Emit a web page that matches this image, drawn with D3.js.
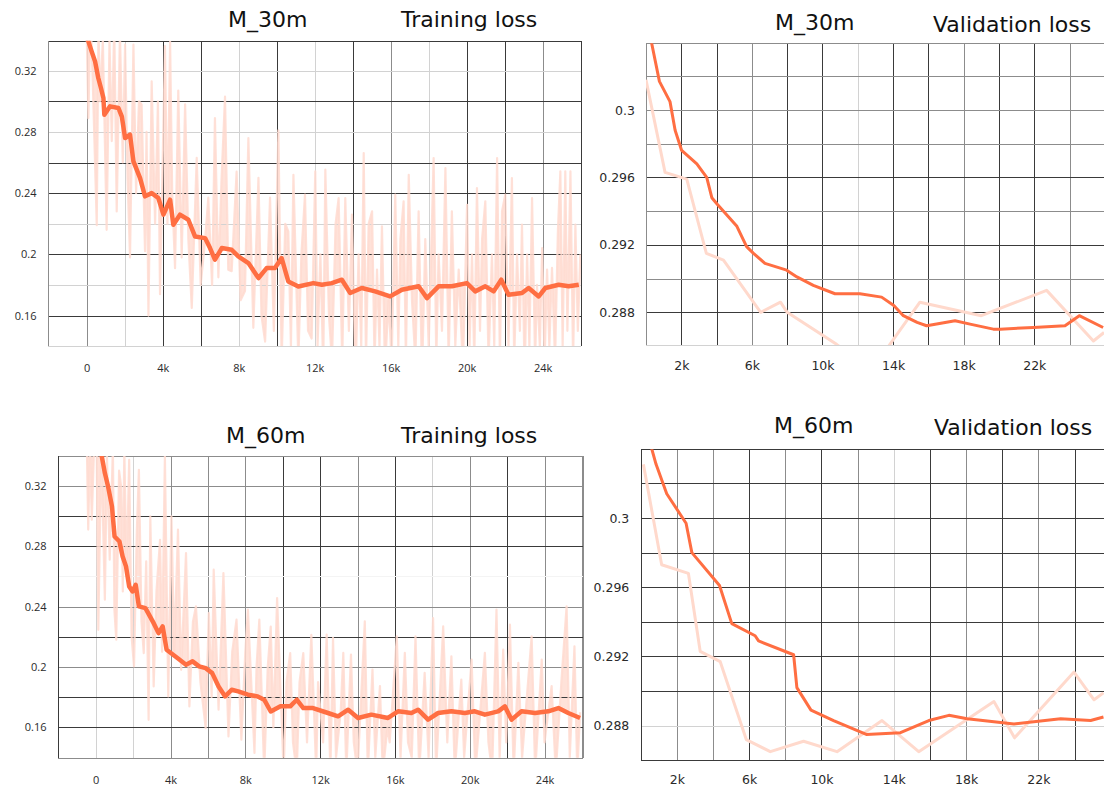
<!DOCTYPE html>
<html><head><meta charset="utf-8">
<script src="https://cdn.jsdelivr.net/npm/d3@7"></script>
<style>body{margin:0;background:#fff}svg{display:block}</style>
</head><body>
<svg id="c" width="1104" height="789"></svg>
<script>
// ---------- DATA (steps in thousands, loss values) ----------
const trainXTicks = [0, 4, 8, 12, 16, 20, 24];
const trainYTicks = [0.16, 0.2, 0.24, 0.28, 0.32];
const valXTicks = [2, 6, 10, 14, 18, 22];
const valYTicks = [0.288, 0.292, 0.296, 0.3];

const train30Smooth = [[0.0,0.342],[0.09,0.3392],[0.26,0.3326],[0.44,0.3261],[0.61,0.3152],[0.75,0.3087],[0.88,0.3021],[0.93,0.2912],[1.23,0.2967],[1.67,0.2956],[1.85,0.2900],[2.02,0.2760],[2.28,0.2782],[2.46,0.2607],[2.81,0.2498],[3.07,0.2379],[3.42,0.2400],[3.77,0.2368],[4.04,0.2259],[4.39,0.2357],[4.56,0.2193],[4.91,0.2259],[5.35,0.2226],[5.70,0.2117],[6.23,0.2106],[6.49,0.2041],[6.75,0.1965],[7.11,0.2041],[7.63,0.2030],[7.98,0.1987],[8.51,0.1943],[9.04,0.1845],[9.47,0.1910],[9.91,0.1910],[10.26,0.1976],[10.61,0.1823],[11.14,0.1790],[11.93,0.1812],[12.38,0.1801],[12.9,0.1812],[13.43,0.1834],[13.87,0.1747],[14.48,0.178],[15.18,0.1758],[15.97,0.1725],[16.59,0.1769],[17.47,0.1791],[17.91,0.1714],[18.52,0.1791],[19.22,0.1791],[20.01,0.1812],[20.45,0.1758],[20.98,0.1791],[21.42,0.1758],[21.82,0.1834],[22.2,0.1736],[22.91,0.1747],[23.26,0.178],[23.79,0.1725],[24.14,0.178],[24.84,0.1801],[25.37,0.1791],[25.9,0.1801]];

const train30Raw = [[0.0,0.345],[0.09,0.289],[0.2,0.36],[0.35,0.30],[0.53,0.219],[0.62,0.35],[0.70,0.30],[0.85,0.34],[1.05,0.216],[1.2,0.34],[1.32,0.274],[1.45,0.35],[1.58,0.228],[1.75,0.345],[1.9,0.26],[2.02,0.337],[2.15,0.25],[2.28,0.198],[2.46,0.337],[2.6,0.24],[2.75,0.30],[2.89,0.298],[3.07,0.202],[3.15,0.28],[3.25,0.160],[3.42,0.313],[3.6,0.22],[3.75,0.30],[3.86,0.174],[4.12,0.336],[4.25,0.22],[4.39,0.339],[4.5,0.24],[4.65,0.191],[4.82,0.307],[5.0,0.198],[5.18,0.298],[5.35,0.21],[5.53,0.165],[5.79,0.263],[6.0,0.18],[6.23,0.209],[6.4,0.237],[6.6,0.18],[6.75,0.289],[6.93,0.185],[7.1,0.25],[7.28,0.303],[7.45,0.19],[7.63,0.189],[7.89,0.254],[8.1,0.17],[8.33,0.176],[8.51,0.276],[8.77,0.152],[9.04,0.250],[9.2,0.16],[9.39,0.143],[9.65,0.237],[9.85,0.15],[10.09,0.281],[10.26,0.13],[10.45,0.22],[10.61,0.215],[10.75,0.14],[10.88,0.252],[11.14,0.13],[11.3,0.20],[11.49,0.239],[11.65,0.15],[11.84,0.145],[12.03,0.2542],[12.15,0.14],[12.3,0.2],[12.45,0.125],[12.56,0.2553],[12.75,0.16],[12.91,0.13],[13.1,0.22],[13.26,0.2368],[13.45,0.13],[13.61,0.2368],[13.8,0.15],[13.96,0.2259],[14.15,0.12],[14.31,0.20],[14.45,0.14],[14.58,0.2662],[14.7,0.13],[14.84,0.22],[15.02,0.2281],[15.15,0.13],[15.28,0.19],[15.41,0.14],[15.54,0.2183],[15.7,0.125],[15.89,0.17],[16.05,0.13],[16.24,0.2390],[16.4,0.14],[16.51,0.21],[16.68,0.2346],[16.8,0.13],[16.95,0.2520],[17.12,0.17],[17.3,0.13],[17.47,0.2281],[17.65,0.12],[17.82,0.21],[18.0,0.14],[18.26,0.2629],[18.4,0.13],[18.52,0.2],[18.7,0.15],[18.88,0.2564],[19.05,0.13],[19.22,0.2281],[19.4,0.14],[19.58,0.19],[19.8,0.125],[20.02,0.2324],[20.15,0.14],[20.28,0.20],[20.4,0.13],[20.54,0.2433],[20.7,0.15],[20.81,0.21],[20.98,0.2346],[21.15,0.13],[21.33,0.20],[21.45,0.14],[21.6,0.2629],[21.75,0.13],[21.86,0.2281],[22.03,0.2390],[22.2,0.14],[22.38,0.2498],[22.5,0.13],[22.65,0.20],[22.8,0.15],[22.91,0.2194],[23.05,0.12],[23.18,0.20],[23.3,0.14],[23.44,0.2368],[23.6,0.13],[23.7,0.18],[23.85,0.14],[23.97,0.2041],[24.1,0.13],[24.23,0.19],[24.35,0.14],[24.49,0.1911],[24.65,0.13],[24.8,0.2150],[24.93,0.2542],[25.05,0.14],[25.19,0.2542],[25.3,0.15],[25.46,0.2542],[25.6,0.13],[25.72,0.2194],[25.85,0.15],[25.98,0.20]];

const train60Smooth = [[0.2,0.343],[0.31,0.3405],[0.49,0.3284],[0.66,0.3196],[0.87,0.3063],[1.01,0.2864],[1.27,0.2831],[1.44,0.2732],[1.62,0.2666],[1.79,0.2533],[1.97,0.2500],[2.14,0.2544],[2.31,0.2401],[2.66,0.2390],[3.1,0.2290],[3.36,0.2224],[3.58,0.2268],[3.79,0.2114],[4.14,0.2081],[4.49,0.2048],[4.83,0.2015],[5.18,0.2037],[5.53,0.2004],[5.88,0.1992],[6.23,0.1959],[6.57,0.1871],[6.92,0.1805],[7.27,0.1849],[7.62,0.1838],[8.14,0.1816],[8.66,0.1805],[9.01,0.1783],[9.36,0.1705],[9.88,0.1739],[10.4,0.1739],[10.75,0.1783],[11.1,0.1728],[11.62,0.1728],[12.42,0.1695],[12.96,0.1673],[13.5,0.1717],[14.03,0.1662],[14.74,0.1684],[15.63,0.1662],[16.17,0.1706],[16.88,0.1695],[17.24,0.1717],[17.77,0.1651],[18.31,0.1695],[19.02,0.1706],[19.74,0.1695],[20.27,0.1706],[20.81,0.1684],[21.52,0.1706],[21.88,0.1739],[22.24,0.1651],[22.77,0.1706],[23.49,0.1695],[24.2,0.1706],[24.74,0.1728],[25.27,0.1695],[25.9,0.1662]];

const train60Raw = [[-0.47,0.345],[-0.4,0.291],[-0.3,0.345],[-0.21,0.2975],[-0.1,0.34],[0.05,0.35],[0.14,0.2246],[0.3,0.345],[0.49,0.2445],[0.6,0.34],[0.75,0.271],[0.92,0.345],[1.0,0.2379],[1.1,0.218],[1.25,0.33],[1.36,0.3196],[1.45,0.25],[1.53,0.345],[1.65,0.26],[1.79,0.3372],[1.92,0.22],[2.05,0.2004],[2.2,0.29],[2.31,0.3306],[2.45,0.23],[2.57,0.2092],[2.7,0.27],[2.83,0.165],[2.92,0.2997],[3.1,0.1871],[3.25,0.25],[3.44,0.2842],[3.55,0.21],[3.7,0.3394],[3.88,0.1805],[4.05,0.2997],[4.2,0.21],[4.4,0.2909],[4.57,0.1981],[4.83,0.2754],[5.01,0.1739],[5.2,0.23],[5.36,0.2401],[5.6,0.19],[5.88,0.1595],[6.05,0.2357],[6.2,0.18],[6.31,0.2644],[6.57,0.1717],[6.83,0.2622],[7.1,0.154],[7.3,0.21],[7.53,0.2313],[7.79,0.1518],[8.0,0.21],[8.14,0.2379],[8.49,0.143],[8.6,0.20],[8.75,0.2313],[9.01,0.13],[9.2,0.20],[9.36,0.2268],[9.5,0.16],[9.7,0.2456],[10.05,0.13],[10.2,0.19],[10.4,0.2092],[10.55,0.15],[10.75,0.13],[10.9,0.19],[11.1,0.2092],[11.3,0.15],[11.53,0.2213],[11.79,0.13],[11.89,0.19],[12.16,0.15],[12.35,0.2214],[12.55,0.13],[12.69,0.2192],[12.85,0.14],[13.1,0.17],[13.24,0.2093],[13.4,0.13],[13.65,0.2082],[13.8,0.15],[14.0,0.13],[14.39,0.2302],[14.55,0.13],[14.8,0.1983],[14.95,0.14],[15.2,0.1873],[15.35,0.13],[15.6,0.16],[15.72,0.15],[16.1,0.2203],[16.3,0.14],[16.53,0.2093],[16.7,0.15],[16.9,0.14],[17.1,0.2203],[17.3,0.13],[17.59,0.1961],[17.8,0.14],[18.04,0.2324],[18.2,0.13],[18.58,0.2269],[18.8,0.15],[19.02,0.2071],[19.2,0.13],[19.55,0.1917],[19.7,0.14],[20.1,0.2049],[20.3,0.13],[20.81,0.2093],[21.0,0.15],[21.2,0.13],[21.43,0.2379],[21.6,0.14],[21.79,0.2115],[21.95,0.15],[22.15,0.2280],[22.35,0.13],[22.6,0.2027],[22.8,0.14],[23.31,0.2203],[23.5,0.13],[23.85,0.2049],[24.0,0.15],[24.38,0.1873],[24.6,0.13],[24.9,0.19],[25.18,0.2401],[25.35,0.14],[25.6,0.2137],[25.75,0.13],[25.9,0.17]];

const val30Smooth = [[0.1,0.3051],[0.76,0.3017],[1.36,0.3005],[1.65,0.2988],[2.02,0.2976],[2.88,0.2968],[3.44,0.2960],[3.73,0.2948],[4.05,0.2944],[5.15,0.2931],[5.7,0.2919],[6.09,0.2915],[6.74,0.2909],[7.97,0.2905],[8.55,0.2901],[9.48,0.2896],[10.71,0.2891],[12.12,0.2891],[13.35,0.2889],[14.04,0.2884],[14.58,0.2878],[15.36,0.2874],[15.9,0.2872],[16.47,0.2873],[17.51,0.2875],[18.36,0.2873],[19.68,0.2870],[20.06,0.2870],[21.95,0.2871],[23.74,0.2872],[24.55,0.2878],[25.9,0.2871]];

const val30Raw = [[0,0.3018],[1.08,0.2963],[2.31,0.2959],[3.42,0.2915],[4.39,0.2911],[6.5,0.2880],[7.62,0.2886],[8.0,0.2880],[10.8,0.2861],[12.77,0.2845],[13.82,0.2861],[15.52,0.2886],[19.0,0.2878],[22.7,0.2893],[25.35,0.2863],[25.95,0.2868]];

const val60Smooth = [[0.4,0.3047],[0.61,0.3040],[0.85,0.3031],[1.44,0.3014],[2.51,0.2997],[2.83,0.2980],[4.36,0.2961],[5.04,0.2939],[6.33,0.2932],[6.52,0.2929],[8.46,0.2921],[8.64,0.2902],[9.42,0.2889],[10.67,0.2883],[12.48,0.2875],[14.37,0.2876],[15.94,0.2883],[17.05,0.2886],[18.06,0.2884],[20.65,0.2881],[23.23,0.2884],[24.89,0.2883],[25.6,0.2885]];

const val60Raw = [[0.15,0.3031],[1.16,0.2973],[2.64,0.2968],[3.29,0.2923],[4.4,0.2917],[5.84,0.2872],[7.17,0.2865],[9.01,0.2871],[10.86,0.2865],[13.35,0.2883],[15.38,0.2865],[19.54,0.2894],[20.68,0.2873],[23.97,0.2911],[25.08,0.2895],[25.6,0.2899]];

// ---------- LAYOUT / STYLE ----------
const SH = {d:'#3a3a3a', m:'#8c8c8c', l:'#d2d2d2', n:'#f4f4f4'};
const panels = [
  {id:'tl', left:47.8, right:581, top:40.7, bottom:346, xDom:[-2.047,26.016], yDom:[0.1401,0.3396],
   xGrid:d3.range(0,27,2), yGrid:[0.16,0.18,0.2,0.22,0.24,0.26,0.28,0.3,0.32],
   vShade:{0:'m',2:'l',4:'d',6:'d',8:'l',10:'d',12:'l',14:'d',16:'m',18:'l',20:'d',22:'d',24:'m',26:'d'},
   hShade:{0.16:'d',0.18:'l',0.2:'d',0.22:'l',0.24:'d',0.26:'d',0.28:'l',0.3:'d',0.32:'l'},
   edge:{t:'d',b:'l',l:'m',r:'d'},
   xt:trainXTicks, yt:trainYTicks, raw:train30Raw, smooth:train30Smooth, kind:'train',
   yLabX:36.5, xLabY:372, titleA:['M_30m',228,27], titleB:['Training loss',401,27]},
  {id:'bl', left:58.2, right:582.5, top:456, bottom:757.7, xDom:[-2.005,26.03], yDom:[0.1399,0.3397],
   xGrid:d3.range(0,27,2), yGrid:[0.16,0.18,0.2,0.22,0.24,0.26,0.28,0.3,0.32],
   vShade:{0:'l',2:'l',4:'m',6:'m',8:'m',10:'d',12:'d',14:'m',16:'d',18:'l',20:'m',22:'d',24:'m',26:'m'},
   hShade:{0.16:'d',0.18:'d',0.2:'m',0.22:'d',0.24:'m',0.26:'n',0.28:'d',0.3:'d',0.32:'m'},
   edge:{t:'m',b:'m',l:'d',r:'m'},
   xt:trainXTicks, yt:trainYTicks, raw:train60Raw, smooth:train60Smooth, kind:'train',
   yLabX:46.5, xLabY:784, titleA:['M_60m',226,443], titleB:['Training loss',401,443]},
  {id:'tr', left:646, right:1104, top:43.3, bottom:345, xDom:[0,25.95], yDom:[0.28606,0.30396],
   xGrid:d3.range(2,26,2), yGrid:[0.288,0.29,0.292,0.294,0.296,0.298,0.3,0.302],
   vShade:{2:'d',4:'d',6:'m',8:'d',10:'d',12:'l',14:'d',16:'d',18:'m',20:'d',22:'d',24:'m'},
   hShade:{0.288:'d',0.29:'m',0.292:'d',0.294:'m',0.296:'d',0.298:'m',0.3:'m',0.302:'m'},
   edge:{t:'m',b:'l',l:'m',r:null},
   xt:valXTicks, yt:valYTicks, raw:val30Raw, smooth:val30Smooth, kind:'val',
   yLabX:635, xLabY:369.5, titleA:['M_30m',775,29.5], titleB:['Validation loss',933,31.5]},
  {id:'br', left:640.7, right:1104, top:449.3, bottom:760, xDom:[0,25.63], yDom:[0.28602,0.30397],
   xGrid:d3.range(2,26,2), yGrid:[0.288,0.29,0.292,0.294,0.296,0.298,0.3,0.302],
   vShade:{2:'m',4:'m',6:'d',8:'m',10:'d',12:'m',14:'l',16:'d',18:'m',20:'d',22:'m',24:'d'},
   hShade:{0.288:'l',0.29:'d',0.292:'d',0.294:'d',0.296:'d',0.298:'d',0.3:'d',0.302:'d'},
   edge:{t:'d',b:'d',l:'d',r:null},
   xt:valXTicks, yt:valYTicks, raw:val60Raw, smooth:val60Smooth, kind:'val',
   yLabX:629.3, xLabY:784, titleA:['M_60m',774,433], titleB:['Validation loss',934,435]}
];

const svg = d3.select('#c');
const defs = svg.append('defs');

panels.forEach(p => {
  const x = d3.scaleLinear().domain(p.xDom).range([p.left, p.right]);
  const y = d3.scaleLinear().domain(p.yDom).range([p.bottom, p.top]);
  const g = svg.append('g').attr('class', 'panel-' + p.id);
  const px = v => Math.round(v) + 0.5;
  const isTrain = p.kind === 'train';

  defs.append('clipPath').attr('id', 'clip-' + p.id).append('rect')
    .attr('x', p.left).attr('y', p.top).attr('width', p.right - p.left).attr('height', p.bottom - p.top);

  // dense raw band (training): light fill between raw readings and the smoothed curve
  const lines = g.append('g').attr('clip-path', 'url(#clip-' + p.id + ')');
  const line = d3.line().x(d => x(d[0])).y(d => y(d[1]));
  if (isTrain) {
    const sm = d3.scaleLinear().domain(p.smooth.map(d => d[0])).range(p.smooth.map(d => d[1])).clamp(true);
    const band = d3.area().x(d => x(d[0])).y0(d => y(sm(d[0]))).y1(d => y(d[1]));
    lines.append('path').datum(p.raw).attr('d', band).attr('fill', '#ffe2d9');
  }

  // grid
  const grid = g.append('g').attr('shape-rendering', 'crispEdges');
  grid.selectAll('line.v').data(p.xGrid).join('line')
    .attr('x1', d => px(x(d))).attr('x2', d => px(x(d)))
    .attr('y1', p.top).attr('y2', p.bottom)
    .attr('stroke', d => SH[p.vShade[d] || 'm']).attr('stroke-width', 1);
  grid.selectAll('line.h').data(p.yGrid).join('line')
    .attr('y1', d => px(y(d))).attr('y2', d => px(y(d)))
    .attr('x1', p.left).attr('x2', p.right)
    .attr('stroke', d => SH[p.hShade[d] || 'm']).attr('stroke-width', 1);
  const e = p.edge;
  grid.append('line').attr('x1', p.left).attr('x2', p.right).attr('y1', px(p.top)).attr('y2', px(p.top)).attr('stroke', SH[e.t]);
  grid.append('line').attr('x1', p.left).attr('x2', p.right).attr('y1', px(p.bottom)).attr('y2', px(p.bottom)).attr('stroke', SH[e.b]);
  grid.append('line').attr('x1', px(p.left)).attr('x2', px(p.left)).attr('y1', p.top).attr('y2', p.bottom).attr('stroke', SH[e.l]);
  if (e.r) grid.append('line').attr('x1', px(p.right)).attr('x2', px(p.right)).attr('y1', p.top).attr('y2', p.bottom).attr('stroke', SH[e.r]);

  const lines2 = g.append('g').attr('clip-path', 'url(#clip-' + p.id + ')');
  lines2.append('path').datum(p.raw).attr('d', line)
    .attr('fill', 'none')
    .attr('stroke', isTrain ? '#ffdbd0' : '#ffd9cc')
    .attr('stroke-opacity', isTrain ? 0.85 : 1)
    .attr('stroke-width', isTrain ? 2.2 : 3)
    .attr('stroke-linejoin', 'round');
  lines2.append('path').datum(p.smooth).attr('d', line)
    .attr('fill', 'none')
    .attr('stroke', '#ff6e42')
    .attr('stroke-width', isTrain ? 4.5 : 3)
    .attr('stroke-linejoin', 'round');

  // axes
  const tickFont = isTrain ? '"Open Sans", sans-serif' : '"DejaVu Sans", sans-serif';
  const tickSize = isTrain ? '11px' : '12.5px';
  const yFmt = v => String(+v.toFixed(3));
  const xFmt = v => v === 0 ? '0' : v + 'k';
  const ya = g.append('g').attr('transform', `translate(${p.yLabX},0)`)
    .call(d3.axisLeft(y).tickValues(p.yt).tickFormat(yFmt).tickSize(0).tickPadding(0));
  const xa = g.append('g').attr('transform', `translate(0,${p.xLabY})`)
    .call(d3.axisBottom(x).tickValues(p.xt).tickFormat(xFmt).tickSize(0).tickPadding(0));
  [ya, xa].forEach(a => {
    a.select('.domain').remove();
    a.selectAll('text').attr('font-family', tickFont).attr('font-size', tickSize).attr('fill', '#2a2a2a');
  });
  xa.selectAll('text').attr('dy', null).attr('y', 0);

  [p.titleA, p.titleB].forEach(t => {
    g.append('text').attr('x', t[1]).attr('y', t[2]).text(t[0])
      .attr('font-family', '"DejaVu Sans", sans-serif').attr('font-size', '22px').attr('fill', '#111');
  });
});
</script>
</body></html>
